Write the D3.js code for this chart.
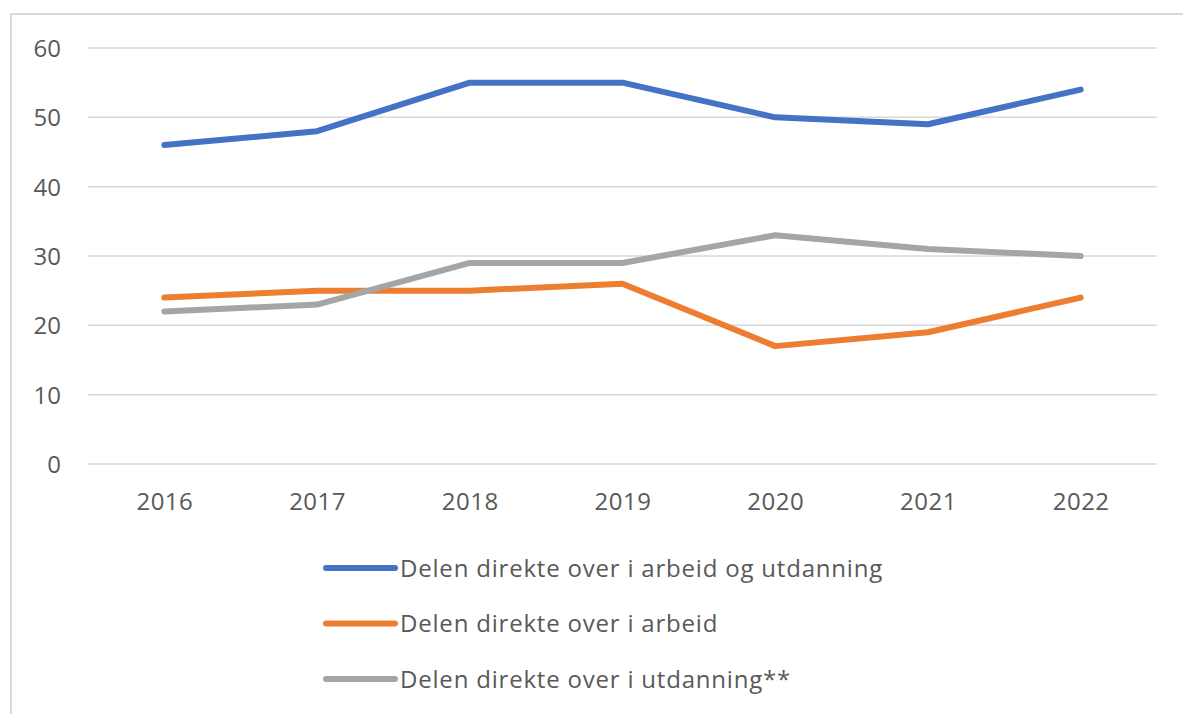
<!DOCTYPE html>
<html>
<head>
<meta charset="utf-8">
<script src="https://cdn.jsdelivr.net/npm/d3@7"></script>
<style>
  body { margin: 0; background: #fff; }
  text { font-family: "Open Sans", sans-serif; fill: #595959; }
</style>
</head>
<body>
<div id="chart"></div>
<script>
// Data
var years = ["2016", "2017", "2018", "2019", "2020", "2021", "2022"];
var arbeidOgUtdanning = [46, 48, 55, 55, 50, 49, 54];
var arbeid = [24, 25, 25, 26, 17, 19, 24];
var utdanning = [22, 23, 29, 29, 33, 31, 30];
var seriesNames = [
  "Delen direkte over i arbeid og utdanning",
  "Delen direkte over i arbeid",
  "Delen direkte over i utdanning**"
];
var yTicks = [0, 10, 20, 30, 40, 50, 60];

var colors = ["#4472C4", "#ED7D31", "#A5A5A5"];
var series = [arbeidOgUtdanning, arbeid, utdanning];

var W = 1183, H = 714;
var plot = { left: 88, right: 1157, top: 48, bottom: 464 };

var svg = d3.select("#chart").append("svg")
  .attr("width", W)
  .attr("height", H);

//Outer chart border (top and left visible)
svg.append("path")
  .attr("d", "M11," + H + " L11,14 L" + W + ",14")
  .attr("fill", "none")
  .attr("stroke", "#d9d9d9")
  .attr("stroke-width", 2);

var x = d3.scalePoint()
  .domain(years)
  .range([plot.left, plot.right])
  .padding(0.5);

var y = d3.scaleLinear()
  .domain([0, 60])
  .range([plot.bottom, plot.top]);

//Gridlines
svg.append("g")
  .selectAll("line")
  .data(yTicks)
  .enter()
  .append("line")
  .attr("x1", plot.left)
  .attr("x2", plot.right)
  .attr("y1", function(d) { return y(d); })
  .attr("y2", function(d) { return y(d); })
  .attr("stroke", "#d9d9d9")
  .attr("stroke-width", 1.5);

//Y axis labels
var yAxis = d3.axisLeft(y).tickValues(yTicks).tickSize(0).tickPadding(0);
var yg = svg.append("g")
  .attr("transform", "translate(61,0)")
  .call(yAxis);
yg.select(".domain").remove();
yg.selectAll("text")
  .attr("font-size", 24)
  .attr("dy", "0.36em")
  .style("font-family", "'Open Sans', sans-serif")
  .style("fill", "#595959");

//X axis labels
var xAxis = d3.axisBottom(x).tickSize(0).tickPadding(0);
var xg = svg.append("g")
  .attr("transform", "translate(0,510)")
  .call(xAxis);
xg.select(".domain").remove();
xg.selectAll("text")
  .attr("font-size", 24)
  .attr("dy", 0)
  .attr("y", 0)
  .style("letter-spacing", "0.5px")
  .style("font-family", "'Open Sans', sans-serif")
  .style("fill", "#595959");

//Lines
var line = d3.line()
  .x(function(d, i) { return x(years[i]); })
  .y(function(d) { return y(d); });

svg.append("g")
  .selectAll("path")
  .data(series)
  .enter()
  .append("path")
  .attr("d", line)
  .attr("fill", "none")
  .attr("stroke", function(d, i) { return colors[i]; })
  .attr("stroke-width", 6)
  .attr("stroke-linejoin", "round")
  .attr("stroke-linecap", "round");

//Legend
var legend = svg.selectAll(".legend")
  .data(seriesNames)
  .enter()
  .append("g")
  .attr("class", "legend")
  .attr("transform", function(d, i) {
    return "translate(0," + (568 + i * 55.5) + ")";
  });

legend.append("line")
  .attr("x1", 326)
  .attr("x2", 395)
  .attr("stroke", function(d, i) { return colors[i]; })
  .attr("stroke-width", 6)
  .attr("stroke-linecap", "round");

legend.append("text")
  .attr("x", 400)
  .attr("dy", "0.36em")
  .attr("font-size", 24)
  .style("letter-spacing", "0.8px")
  .text(function(d) { return d; });
</script>
</body>
</html>
